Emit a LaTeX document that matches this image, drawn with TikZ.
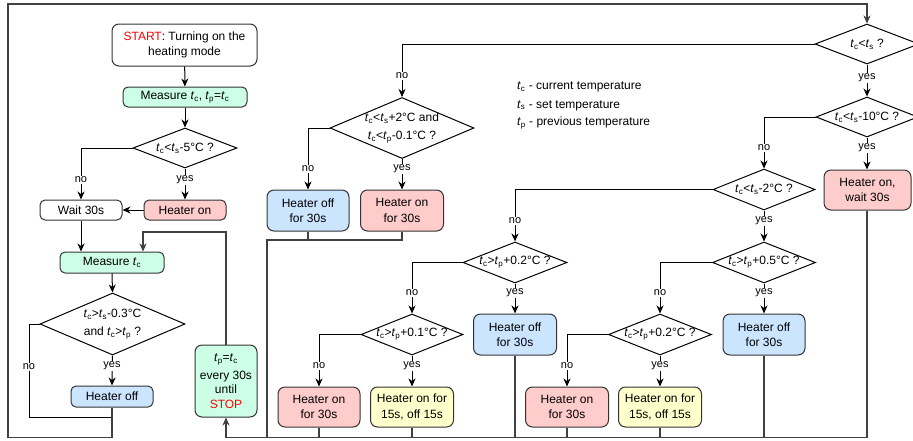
\documentclass[tikz,border=0pt]{standalone}
\usepackage{fontspec}
\setmainfont{Liberation Sans}
\usetikzlibrary{shapes.geometric,arrows.meta}
\definecolor{cgreen}{HTML}{CCFFE6}
\definecolor{cblue}{HTML}{CCE5FF}
\definecolor{cred}{HTML}{FFCCCC}
\definecolor{cyellow}{HTML}{FFFFCC}
\definecolor{cedge}{HTML}{333333}
\newcommand{\tv}[1]{\textit{t}\textsubscript{#1}}
\begin{document}
\begin{tikzpicture}[x=1pt,y=-1pt,
  every node/.style={font=\fontsize{12}{15.5}\selectfont},
  box/.style={draw=cedge, line width=1pt, rounded corners=7pt, align=center, inner sep=0pt, minimum height=41pt, minimum width=82pt},
  sbox/.style={box, rounded corners=5pt, minimum height=20pt},
  dia/.style n args={2}{diamond, draw=black, line width=1pt, inner sep=0pt, minimum width=#1, minimum height=#2},
  dtext/.style={align=center, inner sep=0pt, font=\fontsize{12}{17.5}\selectfont},
  lbl/.style={fill=white, inner sep=1pt, font=\fontsize{11}{13}\selectfont},
  legend/.style={anchor=west, inner sep=0pt},
  conn/.style={draw=black, line width=1pt, -{Stealth[length=8pt,width=7pt,inset=2.5pt]}},
  ret/.style={draw=black!75, line width=1.3pt},
  retarrow/.style={ret, -{Stealth[length=8pt,width=7pt,inset=2.5pt]}}
]
\useasboundingbox (0,0) rectangle (913,440);

% ---------- left part ----------
\node[box, minimum width=145pt, minimum height=42pt] (start) at (184.5,45) {\textcolor{red}{START}: Turning on the\\heating mode};
\node[sbox, fill=cgreen, minimum width=124pt] (m1) at (185,97) {Measure \tv{c}, \tv{p}=\tv{c}};
\node[dia={104pt}{40pt}] (d1) at (185,148) {};
\node[dtext] (t1) at (d1) {\tv{c}<\tv{s}-5°C ?};
\node[sbox, minimum width=82pt] (wait) at (81,210) {Wait 30s};
\node[sbox, fill=cred, minimum width=82pt] (hon1) at (185,210) {Heater on};
\node[sbox, fill=cgreen, minimum width=104pt, minimum height=21pt] (m2) at (112,262.5) {Measure \tv{c}};
\node[dia={145pt}{62pt}] (d2) at (112.5,324) {};
\node[dtext] (t2) at (d2) {\tv{c}>\tv{s}-0.3°C\\and \tv{c}>\tv{p} ?};
\node[sbox, fill=cblue, minimum width=82pt, minimum height=21pt] (hoff1) at (112,396.5) {Heater off};
\node[box, fill=cgreen, minimum width=62pt, minimum height=72pt, font=\fontsize{12}{14.5}\selectfont] (tp) at (226,381) {\tv{p}=\tv{c}\\[3pt]every 30s\\until\\\textcolor{red}{STOP}};

% ---------- right part ----------
\node[dia={104pt}{40pt}] (d3) at (867,44) {};
\node[dtext] (t3) at (d3) {\tv{c}<\tv{s} ?};
\node[dia={102pt}{40pt}] (d4) at (867,117) {};
\node[dtext] (t4) at (d4) {\tv{c}<\tv{s}-10°C ?};
\node[box, fill=cred, minimum width=87pt, minimum height=40pt] (hon3) at (867.5,190) {Heater on,\\wait 30s};
\node[dia={144pt}{61pt}] (d5) at (402,128) {};
\node[dtext] (t5) at (d5) {\tv{c}<\tv{s}+2°C and\\\tv{c}<\tv{p}-0.1°C ?};
\node[box, fill=cblue] (hoff2) at (308,210.5) {Heater off\\for 30s};
\node[box, fill=cred, minimum width=83pt] (hon2) at (402,210.5) {Heater on\\for 30s};
\node[dia={102pt}{41pt}] (d6) at (764,189.5) {};
\node[dtext] (t6) at (d6) {\tv{c}<\tv{s}-2°C ?};
\node[dia={104pt}{41pt}] (d7) at (515,262.5) {};
\node[dtext] (t7) at (d7) {\tv{c}>\tv{p}+0.2°C ?};
\node[dia={103pt}{41pt}] (d8) at (764,262.5) {};
\node[dtext] (t8) at (d8) {\tv{c}>\tv{p}+0.5°C ?};
\node[box, fill=cblue, minimum width=83pt] (hoff3) at (515,334.5) {Heater off\\for 30s};
\node[box, fill=cblue] (hoff4) at (764,334.5) {Heater off\\for 30s};
\node[dia={102pt}{41pt}] (d9) at (412,334.5) {};
\node[dtext] (t9) at (d9) {\tv{c}>\tv{p}+0.1°C ?};
\node[dia={103pt}{41pt}] (d10) at (660,334.5) {};
\node[dtext] (t10) at (d10) {\tv{c}>\tv{p}+0.2°C ?};
\node[box, fill=cred, minimum height=40pt] (hon4) at (319,407) {Heater on\\for 30s};
\node[box, fill=cyellow, minimum width=83pt, minimum height=40pt] (y1) at (412,407) {Heater on for\\15s, off 15s};
\node[box, fill=cred, minimum width=83pt, minimum height=40pt] (hon5) at (567,407) {Heater on\\for 30s};
\node[box, fill=cyellow, minimum width=83pt, minimum height=40pt] (y2) at (660,407) {Heater on for\\15s, off 15s};

% ---------- legend ----------
\node[legend] (lg1) at (517,87) {\tv{c} - current temperature};
\node[legend] (lg2) at (517,105.5) {\tv{s} - set temperature};
\node[legend] (lg3) at (517,123) {\tv{p} - previous temperature};

% ---------- helper coordinates ----------
\coordinate (c1) at (8,437.5);
\coordinate (c2) at (8,4);
\coordinate (c3) at (867,437.5);
\coordinate (c4) at (143,232);
\coordinate (j1) at (112,417);
\coordinate (j2) at (267,240);
\coordinate (k1) at (29,324);

% ---------- connectors: left ----------
\draw[conn] (start) -- (m1);
\draw[conn] (m1) -- (d1);
\draw[conn] (d1.west) -| (wait.north);
\draw[conn] (d1.south) -- (hon1.north);
\draw[conn] (hon1.west) -- (wait.east);
\draw[conn] (wait.south) -- (wait.south |- m2.north);
\draw[conn] (m2.south) -- (d2.north);
\draw[conn] (d2.south) -- (hoff1.north);
\draw[draw=black, line width=1pt] (d2.west) -- (k1) |- (j1);
\draw[retarrow] (hoff1.south) |- (c1) -- (c2) -| (d3.north);
\draw[retarrow] (tp.north) |- (c4) -- (c4 |- m2.north);

% ---------- connectors: right ----------
\draw[conn] (d3.south) -- (d4.north);
\draw[conn] (d3.west) -| (d5.north);
\draw[conn] (d4.south) -- (d4.south |- hon3.north);
\draw[conn] (d4.west) -| (d6.north);
\draw[conn] (d5.west) -| (hoff2.north);
\draw[conn] (d5.south) -- (hon2.north);
\draw[conn] (d6.west) -| (d7.north);
\draw[conn] (d6.south) -- (d8.north);
\draw[conn] (d7.west) -| (d9.north);
\draw[conn] (d7.south) -- (hoff3.north);
\draw[conn] (d8.west) -| (d10.north);
\draw[conn] (d8.south) -- (hoff4.north);
\draw[conn] (d9.west) -| (hon4.north);
\draw[conn] (d9.south) -- (y1.north);
\draw[conn] (d10.west) -| (hon5.north);
\draw[conn] (d10.south) -- (y2.north);

% ---------- return lines ----------
\draw[ret] (hoff2.south) -- (hoff2.south |- j2);
\draw[ret] (hon2.south) |- (j2) -- (j2 |- c3);
\draw[ret] (hon4.south) -- (hon4.south |- c3);
\draw[ret] (y1.south) -- (y1.south |- c3);
\draw[ret] (hoff3.south) -- (hoff3.south |- c3);
\draw[ret] (hon5.south) -- (hon5.south |- c3);
\draw[ret] (y2.south) -- (y2.south |- c3);
\draw[ret] (hoff4.south) -- (hoff4.south |- c3);
\draw[retarrow] (hon3.south -| c3) -- (c3) -| (tp.south);

% ---------- labels ----------
\node[lbl] (l1) at (81,180) {no};
\node[lbl] (l2) at (185,180) {yes};
\node[lbl] (l3) at (112,366) {yes};
\node[lbl] (l4) at (29,367) {no};
\node[lbl] (l5) at (867,78) {yes};
\node[lbl] (l6) at (402,76) {no};
\node[lbl] (l7) at (867,148) {yes};
\node[lbl] (l8) at (764,148) {no};
\node[lbl] (l9) at (308,169) {no};
\node[lbl] (l10) at (402,169) {yes};
\node[lbl] (l11) at (515,221) {no};
\node[lbl] (l12) at (764,221) {yes};
\node[lbl] (l13) at (412,293) {no};
\node[lbl] (l14) at (515,293) {yes};
\node[lbl] (l15) at (660,293) {no};
\node[lbl] (l16) at (764,293) {yes};
\node[lbl] (l17) at (319,366) {no};
\node[lbl] (l18) at (412,366) {yes};
\node[lbl] (l19) at (567,366) {no};
\node[lbl] (l20) at (660,366) {yes};
\end{tikzpicture}
\end{document}
